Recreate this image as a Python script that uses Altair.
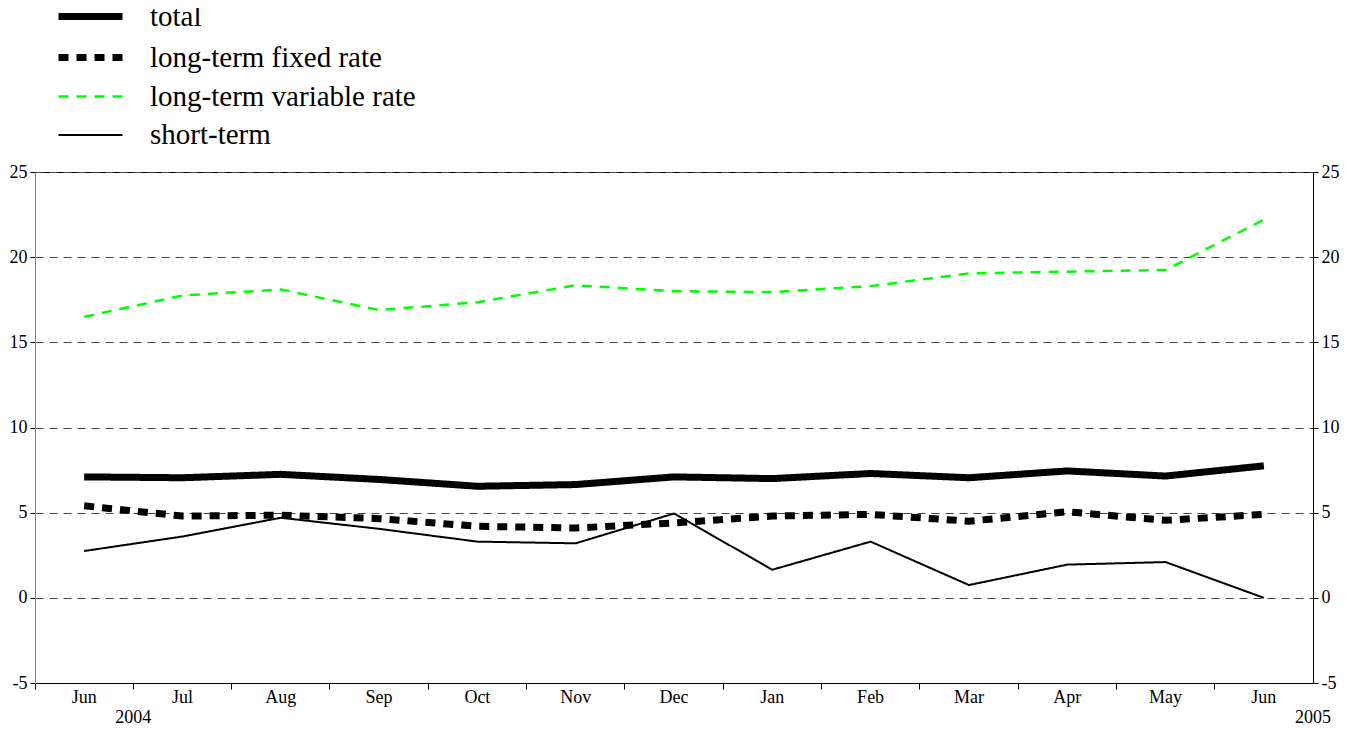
import altair as alt
import pandas as pd

months = ["Jun 2004", "Jul 2004", "Aug 2004", "Sep 2004", "Oct 2004", "Nov 2004",
          "Dec 2004", "Jan 2005", "Feb 2005", "Mar 2005", "Apr 2005", "May 2005", "Jun 2005"]
series = ["total", "long-term fixed rate", "long-term variable rate", "short-term"]
total = [7.1, 7.05, 7.25, 6.95, 6.55, 6.65, 7.1, 7.0, 7.3, 7.05, 7.45, 7.15, 7.75]
fixed = [5.4, 4.8, 4.85, 4.65, 4.2, 4.1, 4.4, 4.8, 4.9, 4.5, 5.05, 4.55, 4.9]
variable = [16.5, 17.75, 18.1, 16.9, 17.35, 18.35, 18.0, 17.95, 18.3, 19.05, 19.15, 19.25, 22.2]
short = [2.75, 3.6, 4.7, 4.05, 3.3, 3.2, 4.95, 1.65, 3.3, 0.75, 1.95, 2.1, 0.0]
years = ["2004", "2005"]
year_pos = ["Jun 2004", "Jun 2005"]
y_ticks = [-5, 0, 5, 10, 15, 20, 25]

rows = []
for name, vals in zip(series, [total, fixed, variable, short]):
    for i, (m, v) in enumerate(zip(months, vals)):
        rows.append({"month": m, "value": v, "series": name, "order": i})
df = pd.DataFrame(rows)
ydf = pd.DataFrame({"month": year_pos, "year": years})

FONT = "Liberation Serif"
W, H = 1278, 511

x_scale = alt.Scale(type="band", domain=months, paddingInner=0, paddingOuter=0)
y_scale = alt.Scale(domain=[-5, 25], nice=False)

lines = alt.Chart(df).mark_line(strokeCap="butt", strokeJoin="round").encode(
    x=alt.X("month:N", scale=x_scale, sort=months, title=None, bandPosition=0.5,
            axis=alt.Axis(bandPosition=0,
                          labelExpr="slice(datum.value, 0, 3)", labelAngle=0,
                          tickSize=6, tickColor="black", domainColor="black",
                          labelFont=FONT, labelFontSize=18, labelColor="black",
                          labelPadding=-1, grid=False)),
    y=alt.Y("value:Q", scale=y_scale, title=None,
            axis=alt.Axis(values=y_ticks, orient="left", labelExpr="'' + datum.value",
                          domainColor="#808080", tickColor="black", tickSize=5,
                          labelFont=FONT, labelFontSize=18, labelColor="black",
                          labelPadding=3, grid=True, gridDash=[8, 6],
                          gridColor="#444444", gridWidth=1)),
    color=alt.Color("series:N", sort=series, title=None,
                    scale=alt.Scale(domain=series,
                                    range=["black", "black", "#00ff00", "black"]),
                    legend=alt.Legend(orient="none", legendX=36, legendY=-175,
                                      symbolType="M-2,0H2", symbolSize=1024,
                                      labelFont=FONT, labelFontSize=29,
                                      labelColor="black", labelOffset=40,
                                      labelLimit=500, rowPadding=6)),
    strokeDash=alt.StrokeDash("series:N", sort=series, title=None,
                              scale=alt.Scale(domain=series, type="ordinal",
                                              range=[[1, 0], [10, 8], [10, 8], [1, 0]])),
    strokeWidth=alt.StrokeWidth("series:N", sort=series, title=None,
                                scale=alt.Scale(domain=series, type="ordinal",
                                                range=[7, 7, 2.5, 2])),
    order="order:Q",
)

right = alt.Chart(df).mark_line(opacity=0).encode(
    x=alt.X("month:N", scale=x_scale, sort=months, axis=None, bandPosition=0.5),
    y=alt.Y("value:Q", scale=y_scale, title=None,
            axis=alt.Axis(values=y_ticks, orient="right", labelExpr="'' + datum.value",
                          domainColor="black", tickColor="black", tickSize=5,
                          labelFont=FONT, labelFontSize=18, labelColor="black",
                          labelPadding=3, grid=False)),
    detail="series:N",
)

year_text = alt.Chart(ydf).mark_text(font=FONT, fontSize=18, color="black",
                                     baseline="middle").encode(
    x=alt.X("month:N", scale=x_scale, sort=months, axis=None, bandPosition=1),
    y=alt.value(H + 35),
    text="year:N",
)

chart = alt.layer(lines, right, year_text).resolve_axis(
    y="independent", x="independent"
).properties(
    width=W, height=H,
    autosize=alt.AutoSizeParams(type="none"),
    padding={"left": 27, "top": 164, "right": 42, "bottom": 40},
).configure_view(stroke="black", strokeWidth=1)

chart.save("out.html", embed_options={"renderer": "svg", "actions": False})
